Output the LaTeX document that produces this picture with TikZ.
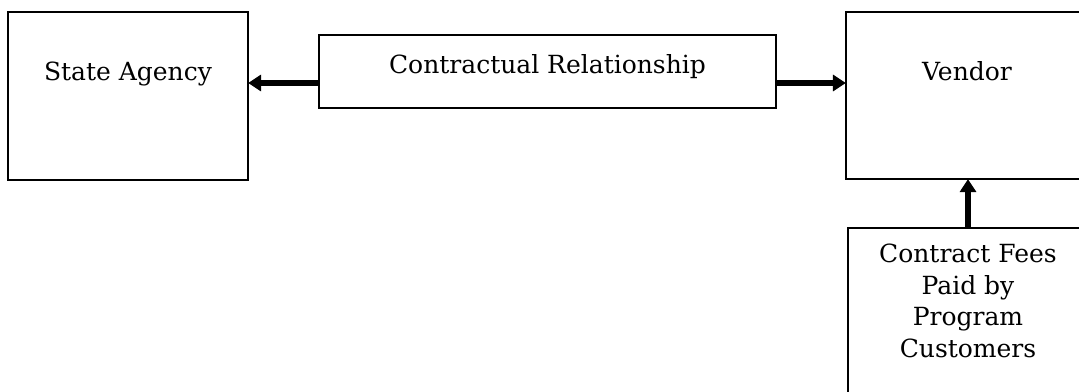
\documentclass[tikz,border=0pt]{standalone}
\usepackage{fontspec}
\setmainfont{DejaVu Serif}
\usetikzlibrary{arrows.meta}
\tikzset{
  box/.style={draw=black, line width=2.2pt, fill=white, inner sep=0pt, rectangle},
  txt/.style={inner sep=0pt, anchor=base, font=\fontsize{25}{31.5}\selectfont, align=center},
  arr/.style={line width=6pt, -{Triangle[length=13pt,width=16pt]}, shorten >=-1pt}
}
\begin{document}
\begin{tikzpicture}[x=1pt,y=-1pt]
\clip (0,0) rectangle (1079,391);
\fill[white] (0,0) rectangle (1079,391);
% boxes
\node[box, minimum width=240pt, minimum height=168pt] (sa) at (128,96) {};
\node[box, minimum width=457pt, minimum height=73pt] (cr) at (547.5,71.5) {};
\node[box, minimum width=242pt, minimum height=167pt] (vd) at (967,95.5) {};
\node[box, minimum width=240pt, minimum height=200pt] (cf) at (968,328) {};
% texts
\node[txt] (satxt) at (128,80) {State Agency};
\node[txt] (crtxt) at (547.5,73) {Contractual Relationship};
\node[txt] (vdtxt) at (967,80) {Vendor};
\node[txt, anchor=base] (cftxt) at (968,357) {Contract Fees\\Paid by\\Program\\Customers};
% connectors
\coordinate (ay) at (0,83);
\draw[arr] (cr.west |- ay) -- (sa.east |- ay);
\draw[arr] (cr.east |- ay) -- (vd.west |- ay);
\coordinate (ax) at (968,0);
\draw[arr] (ax |- cf.north) -- (ax |- vd.south);
\end{tikzpicture}
\end{document}
